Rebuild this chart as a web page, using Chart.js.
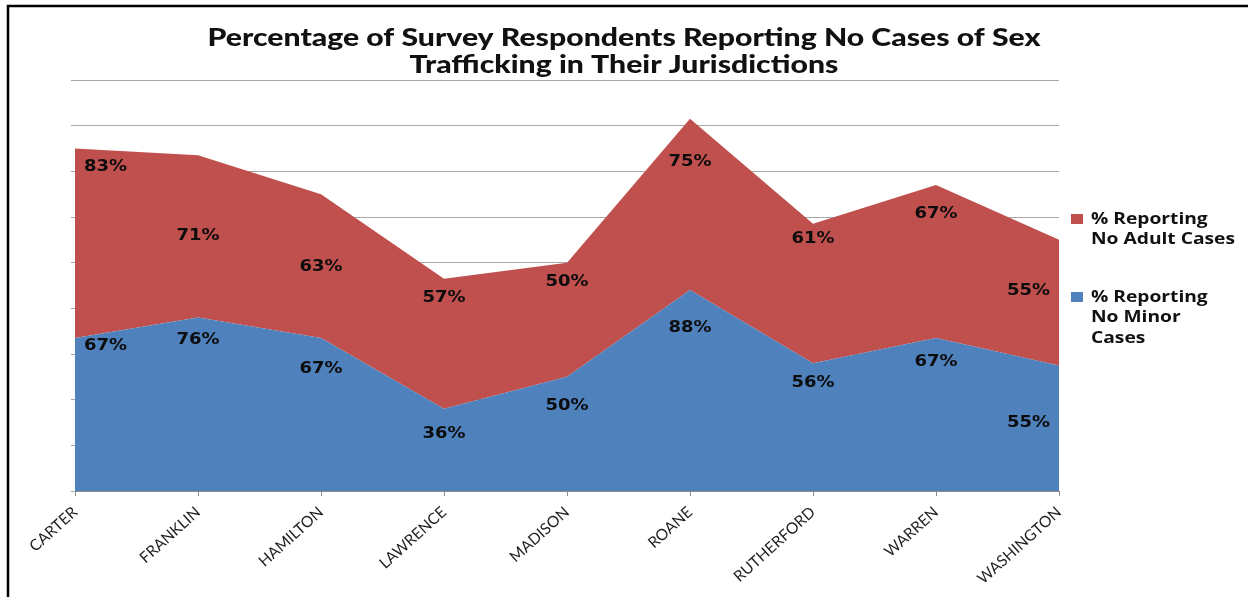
<!DOCTYPE html>
<html>
<head>
<meta charset="utf-8">
<script src="https://cdn.jsdelivr.net/npm/chart.js@4"></script>
<style>
  html, body { margin: 0; padding: 0; background: #fff; }
  #wrap { width: 1248px; height: 597px; }
</style>
</head>
<body>
<div id="wrap"><canvas id="chart" width="1248" height="597"></canvas></div>
<script>
const counties = ['CARTER', 'FRANKLIN', 'HAMILTON', 'LAWRENCE', 'MADISON', 'ROANE', 'RUTHERFORD', 'WARREN', 'WASHINGTON'];
const noMinorCases = [67, 76, 67, 36, 50, 88, 56, 67, 55];
const noAdultCases = [83, 71, 63, 57, 50, 75, 61, 67, 55];
const titleLines = ['Percentage of Survey Respondents Reporting No Cases of Sex', 'Trafficking in Their Jurisdictions'];
const legendItems = [
    { lines: ['% Reporting', 'No Adult Cases'], color: '#C0504D' },
    { lines: ['% Reporting', 'No Minor', 'Cases'], color: '#4F81BD' }
];

// where each label sits inside its band (0 = bottom edge, 1 = top edge)
const minorLabelSpot = [0.95, 0.87, 0.80, 0.69, 0.74, 0.81, 0.84, 0.84, 0.54];
const adultLabelSpot = [0.90, 0.50, 0.49, 0.85, 0.83, 0.75, 0.89, 0.81, 0.59];

const STRETCH = 1.2;

function stretchedText(ctx, text, x, y, align) {
    ctx.save();
    ctx.translate(x, y);
    ctx.scale(STRETCH, 1);
    ctx.textAlign = align || 'center';
    ctx.fillText(text, 0, 0);
    ctx.restore();
}

const decorPlugin = {
    id: 'decor',
    beforeDraw(chart) {
        const ctx = chart.ctx;
        ctx.save();
        ctx.fillStyle = '#ffffff';
        ctx.fillRect(0, 0, chart.width, chart.height);
        ctx.strokeStyle = '#000000';
        ctx.lineWidth = 2.5;
        ctx.beginPath();
        ctx.moveTo(8, chart.height);
        ctx.lineTo(8, 6);
        ctx.lineTo(chart.width, 6);
        ctx.stroke();
        ctx.restore();
    },
    afterDraw(chart) {
        const ctx = chart.ctx;
        const area = chart.chartArea;
        ctx.save();
        // title, squeezed to the reference width
        ctx.fillStyle = '#111111';
        ctx.font = '900 24px Lato';
        ctx.textBaseline = 'middle';
        const w = ctx.measureText(titleLines[0]).width;
        const sx = 833 / w;
        titleLines.forEach((t, i) => {
            ctx.save();
            ctx.translate(chart.width / 2, 38 + i * 27);
            ctx.scale(sx, 1);
            ctx.textAlign = 'center';
            ctx.fillText(t, 0, 0);
            ctx.restore();
        });

        // legend
        ctx.font = 'bold 16px "Open Sans"';
        ctx.textBaseline = 'middle';
        let y = 219;
        legendItems.forEach(item => {
            ctx.fillStyle = item.color;
            ctx.fillRect(area.right + 12, y - 5, 12, 10);
            ctx.fillStyle = '#111111';
            item.lines.forEach((ln, k) => {
                stretchedText(ctx, ln, area.right + 32, y + k * 20.5, 'left');
            });
            y += 78;
        });

        // value labels
        ctx.font = 'bold 15px "DejaVu Sans"';
        ctx.fillStyle = '#0d0d0d';
        ctx.textBaseline = 'middle';
        const yScale = chart.scales.y;
        const spots = [minorLabelSpot, adultLabelSpot];
        chart.data.datasets.forEach((ds, d) => {
            const meta = chart.getDatasetMeta(d);
            meta.data.forEach((pt, j) => {
                const bottom = d === 0 ? yScale.getPixelForValue(0) : chart.getDatasetMeta(d - 1).data[j].y;
                const ly = bottom - spots[d][j] * (bottom - pt.y);
                const text = ds.data[j] + '%';
                const half = ctx.measureText(text).width * STRETCH / 2;
                const lx = Math.min(Math.max(pt.x, area.left + 9 + half), area.right - 9 - half);
                stretchedText(ctx, text, lx, ly, 'center');
            });
        });
        ctx.restore();
    }
};

const config = {
    type: 'line',
    data: {
        labels: counties,
        datasets: [{
            label: '% Reporting No Minor Cases',
            data: noMinorCases,
            backgroundColor: '#4F81BD',
            borderColor: '#4F81BD',
            borderWidth: 0,
            pointRadius: 0,
            fill: 'origin',
            tension: 0,
        }, {
            label: '% Reporting No Adult Cases',
            data: noAdultCases,
            backgroundColor: '#C0504D',
            borderColor: '#C0504D',
            borderWidth: 0,
            pointRadius: 0,
            fill: '-1',
            tension: 0,
        }]
    },
    options: {
        responsive: false,
        animation: false,
        layout: {
            padding: { left: 0, right: 189, top: 80, bottom: 0 }
        },
        scales: {
            x: {
                offset: false,
                grid: {
                    drawOnChartArea: false,
                    drawTicks: true,
                    tickLength: 5,
                    color: '#8c8c8c',
                },
                border: { display: true, color: '#8c8c8c' },
                ticks: {
                    minRotation: 42,
                    maxRotation: 42,
                    padding: 7,
                    color: '#1f1f1f',
                    font: { family: 'Lato', size: 15.5 },
                },
                afterFit(s) {
                    s.height = 106;
                    s.paddingLeft = 0;
                    s.paddingRight = 0;
                }
            },
            y: {
                stacked: true,
                min: 0,
                max: 180,
                ticks: { display: false, stepSize: 20 },
                grid: { color: '#a8a8a8', drawTicks: true, tickLength: 4 },
                border: { display: false },
                afterFit(s) {
                    s.width = 75;
                }
            }
        },
        plugins: {
            legend: { display: false },
            title: { display: false },
            tooltip: { enabled: false }
        }
    },
    plugins: [decorPlugin]
};

var myChart = new Chart(
    document.getElementById('chart').getContext('2d'),
    config
);
</script>
</body>
</html>
